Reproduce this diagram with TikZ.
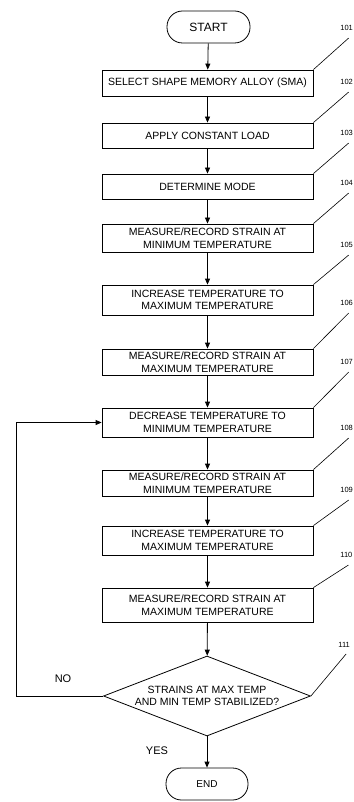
\documentclass[tikz,border=0pt]{standalone}
\usepackage{fontspec}
\setmainfont{Liberation Sans}
\usetikzlibrary{arrows.meta,shapes.geometric}
\begin{document}
\begin{tikzpicture}[x=1pt,y=-1pt,
  line width=0.8pt,
  stepbox/.style={draw, minimum width=211pt, inner sep=0pt, align=center,
    font=\fontsize{10.5}{12.5}\selectfont},
  term/.style={draw, rounded corners=15.5pt, minimum width=83pt, minimum height=32pt, inner sep=0pt},
  decide/.style={draw, diamond, aspect=2.6, minimum width=207pt, minimum height=80pt, inner sep=0pt,
    align=center, font=\fontsize{10.5}{12.5}\selectfont},
  arr/.style={-{Triangle[length=6pt,width=5pt]}},
  lab/.style={anchor=west, inner sep=0pt, font=\fontsize{7.5}{8}\selectfont},
  lead/.style={line width=0.6pt},
  yn/.style={inner sep=0pt, font=\fontsize{11}{12}\selectfont}
]
\useasboundingbox (0,0) rectangle (353,802);

\node[term, font=\fontsize{12}{13}\selectfont] (s) at (208.5,27) {START};
\node[stepbox, minimum height=26pt] (b1) at (207.5,83) {SELECT SHAPE MEMORY ALLOY (SMA)};
\node[stepbox, minimum height=25pt] (b2) at (207.5,135.5) {APPLY CONSTANT LOAD};
\node[stepbox, minimum height=25pt] (b3) at (207.5,186.5) {DETERMINE MODE};
\node[stepbox, minimum height=28pt] (b4) at (207.5,238) {MEASURE/RECORD STRAIN AT\\MINIMUM TEMPERATURE};
\node[stepbox, minimum height=30pt] (b5) at (207.5,300) {INCREASE TEMPERATURE TO\\MAXIMUM TEMPERATURE};
\node[stepbox, minimum height=26pt] (b6) at (207.5,362) {MEASURE/RECORD STRAIN AT\\MAXIMUM TEMPERATURE};
\node[stepbox, minimum height=29pt] (b7) at (207.5,422.5) {DECREASE TEMPERATURE TO\\MINIMUM TEMPERATURE};
\node[stepbox, minimum height=26pt] (b8) at (207.5,483) {MEASURE/RECORD STRAIN AT\\MINIMUM TEMPERATURE};
\node[stepbox, minimum height=29pt] (b9) at (207.5,540.5) {INCREASE TEMPERATURE TO\\MAXIMUM TEMPERATURE};
\node[stepbox, minimum height=34pt] (b10) at (207.5,605) {MEASURE/RECORD STRAIN AT\\MAXIMUM TEMPERATURE};
\node[decide] (d) at (207,696) {STRAINS AT MAX TEMP\\AND MIN TEMP STABILIZED?};
\node[term, minimum width=82pt, font=\fontsize{10}{11}\selectfont] (e) at (207,784) {END};

\draw[arr] (s) -- (b1);
\draw[arr] (b1) -- (b2);
\draw[arr] (b2) -- (b3);
\draw[arr] (b3) -- (b4);
\draw[arr] (b4) -- (b5);
\draw[arr] (b5) -- (b6);
\draw[arr] (b6) -- (b7);
\draw[arr] (b7) -- (b8);
\draw[arr] (b8) -- (b9);
\draw[arr] (b9) -- (b10);
\draw[arr] (b10) -- (d);
\draw[arr] (d) -- (e);

\coordinate (lp) at (16,696);
\draw[arr] (d.west) -- (lp) |- (b7.west);

\node[yn] (no) at (63,679) {NO};
\node[yn] (yes) at (157,751) {YES};

\node[lab] (l1) at (340,28) {101};
\node[lab] (l2) at (340,82) {102};
\node[lab] (l3) at (340,133) {103};
\node[lab] (l4) at (340,183) {104};
\node[lab] (l5) at (340,245) {105};
\node[lab] (l6) at (340,303) {106};
\node[lab] (l7) at (340,362) {107};
\node[lab] (l8) at (340,428) {108};
\node[lab] (l9) at (340,490) {109};
\node[lab] (l10) at (340,555) {110};
\node[lab] (l11) at (338,645) {111};

\draw[lead] (b1.north east) -- ([xshift=2pt,yshift=-7pt]l1.south);
\draw[lead] (b2.north east) -- ([xshift=2pt,yshift=-7pt]l2.south);
\draw[lead] (b3.north east) -- ([xshift=2pt,yshift=-7pt]l3.south);
\draw[lead] (b4.north east) -- ([xshift=2pt,yshift=-7pt]l4.south);
\draw[lead] (b5.north east) -- ([xshift=2pt,yshift=-7pt]l5.south);
\draw[lead] (b6.north east) -- ([xshift=2pt,yshift=-7pt]l6.south);
\draw[lead] (b7.north east) -- ([xshift=2pt,yshift=-7pt]l7.south);
\draw[lead] (b8.north east) -- ([xshift=2pt,yshift=-7pt]l8.south);
\draw[lead] (b9.north east) -- ([xshift=2pt,yshift=-7pt]l9.south);
\draw[lead] (b10.north east) -- ([xshift=2pt,yshift=-7pt]l10.south);
\draw[lead] (d.east) -- ([xshift=2pt,yshift=-6pt]l11.south);
\end{tikzpicture}
\end{document}
